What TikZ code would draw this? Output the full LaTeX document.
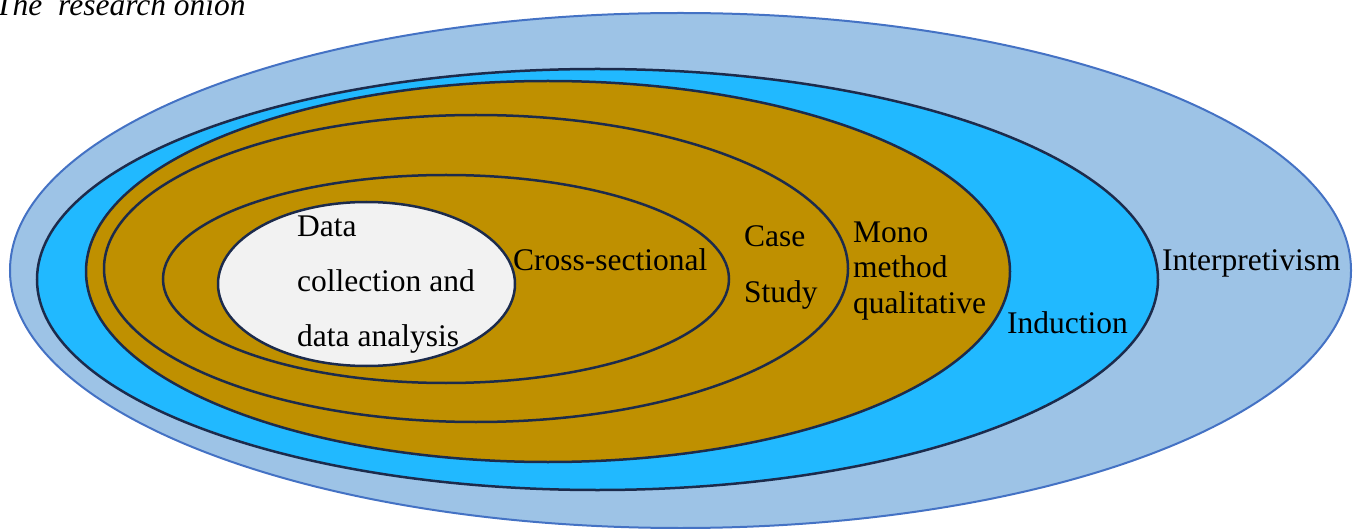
\documentclass[tikz,border=0pt]{standalone}
\usepackage{fontspec}
\setmainfont{Liberation Serif}
\usetikzlibrary{shapes.geometric}

\definecolor{philoblue}{HTML}{9DC3E6}
\definecolor{philoedge}{HTML}{4472C4}
\definecolor{approachblue}{HTML}{21B9FF}
\definecolor{ringedge}{HTML}{1C2B4C}
\definecolor{choicegold}{HTML}{BF9000}
\definecolor{coregray}{HTML}{F2F2F2}

\begin{document}
\begin{tikzpicture}[x=1pt, y=-1pt]

    % --- Styles ---
    \tikzset{
        % basis for all rings of the onion
        ring/.style={
            ellipse,
            draw=ringedge,
            line width=2.5pt,
            inner sep=0pt,
            outer sep=0pt
        },
        % outer ring
        philosophy/.style={
            ring,
            draw=philoedge,
            fill=philoblue,
            line width=2pt
        },
        approach/.style={
            ring,
            fill=approachblue
        },
        choice/.style={
            ring,
            fill=choicegold
        },
        core/.style={
            ring,
            fill=coregray
        },
        % labels inside the rings (anchored at the last line)
        ringlabel/.style={
            font=\fontsize{31.5}{55}\selectfont,
            align=left,
            inner sep=0pt,
            anchor=base west
        }
    }

    \useasboundingbox (0,0) rectangle (1357,529);

    % --- 1. Rings (outside to inside) ---
    \node[philosophy, minimum width=1341pt, minimum height=515pt] (interp) at (680.5, 270.5) {};
    \node[approach, minimum width=1121pt, minimum height=421pt] (induct) at (597.5, 279.5) {};
    \node[choice, minimum width=924pt, minimum height=381pt] (mono) at (548, 271.5) {};
    \node[ring, minimum width=744pt, minimum height=307pt] (strategy) at (476, 268.5) {};
    \node[ring, minimum width=566pt, minimum height=208pt] (horizon) at (446, 279) {};
    \node[core, minimum width=297pt, minimum height=164pt] (techniques) at (366.5, 284) {};

    % --- 2. Labels ---
    \node[ringlabel, font=\fontsize{31.5}{38}\itshape] (title) at (-5, 16) {The~ research onion};

    \node[ringlabel] (datalbl) at (297, 346) {Data\\collection and\\data analysis};
    \node[ringlabel] (crosslbl) at (513, 271) {Cross-sectional};
    \node[ringlabel] (caselbl) at (744, 302) {Case\\Study};
    % tighter lines here
    \node[ringlabel, font=\fontsize{31.5}{35.5}\selectfont] (monolbl) at (853, 313) {Mono\\method\\qualitative};
    \node[ringlabel] (inductlbl) at (1007, 333) {Induction};
    \node[ringlabel] (interplbl) at (1162, 271) {Interpretivism};

\end{tikzpicture}
\end{document}
